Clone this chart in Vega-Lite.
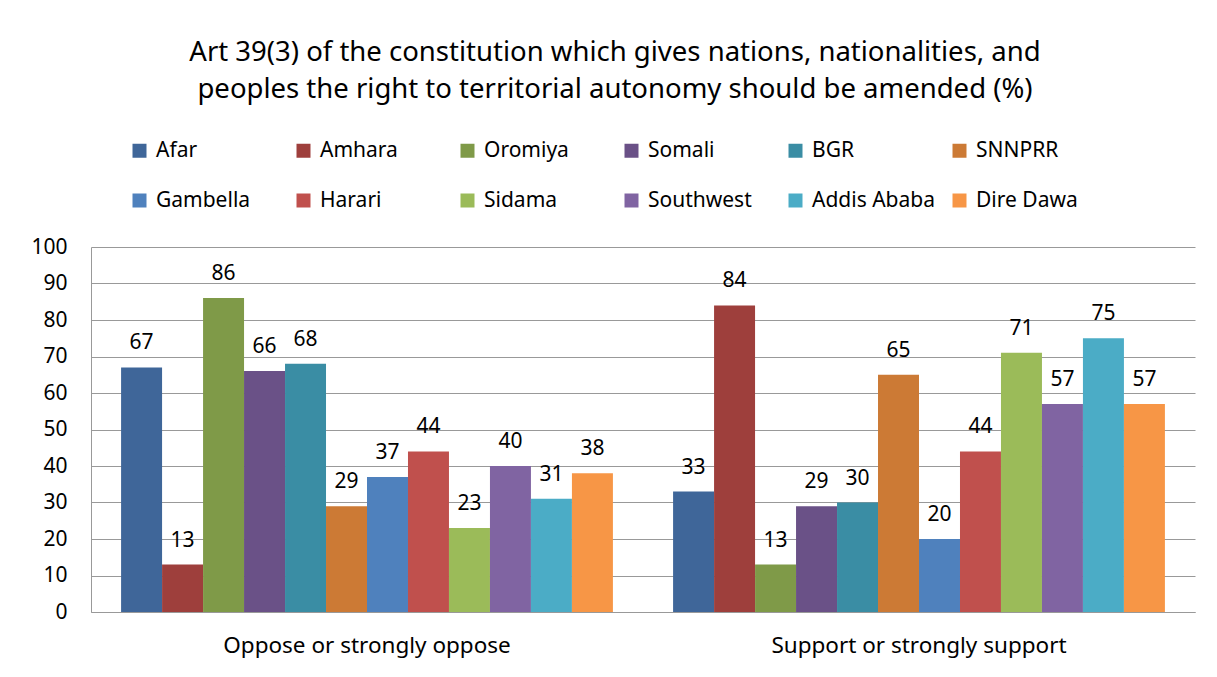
{
  "$schema": "https://vega.github.io/schema/vega-lite/v6.json",
  "autosize": {"type": "none"},
  "width": 1104,
  "height": 365,
  "padding": {"left": 91, "top": 247, "right": 22, "bottom": 65},
  "background": "white",
  "title": {
    "text": ["Art 39(3) of the constitution which gives nations, nationalities, and", "peoples the right to territorial autonomy should be amended (%)"],
    "anchor": "middle",
    "frame": "group",
    "font": "Noto Sans",
    "fontSize": 27.5,
    "fontWeight": "normal",
    "color": "#000",
    "lineHeight": 37,
    "dx": -28,
    "offset": 37
  },
  "data": {
    "values": [
      {"group": "Oppose or strongly oppose", "region": "Afar", "value": 67},
      {"group": "Oppose or strongly oppose", "region": "Amhara", "value": 13},
      {"group": "Oppose or strongly oppose", "region": "Oromiya", "value": 86},
      {"group": "Oppose or strongly oppose", "region": "Somali", "value": 66},
      {"group": "Oppose or strongly oppose", "region": "BGR", "value": 68},
      {"group": "Oppose or strongly oppose", "region": "SNNPRR", "value": 29},
      {"group": "Oppose or strongly oppose", "region": "Gambella", "value": 37},
      {"group": "Oppose or strongly oppose", "region": "Harari", "value": 44},
      {"group": "Oppose or strongly oppose", "region": "Sidama", "value": 23},
      {"group": "Oppose or strongly oppose", "region": "Southwest", "value": 40},
      {"group": "Oppose or strongly oppose", "region": "Addis Ababa", "value": 31},
      {"group": "Oppose or strongly oppose", "region": "Dire Dawa", "value": 38},
      {"group": "Support or strongly support", "region": "Afar", "value": 33},
      {"group": "Support or strongly support", "region": "Amhara", "value": 84},
      {"group": "Support or strongly support", "region": "Oromiya", "value": 13},
      {"group": "Support or strongly support", "region": "Somali", "value": 29},
      {"group": "Support or strongly support", "region": "BGR", "value": 30},
      {"group": "Support or strongly support", "region": "SNNPRR", "value": 65},
      {"group": "Support or strongly support", "region": "Gambella", "value": 20},
      {"group": "Support or strongly support", "region": "Harari", "value": 44},
      {"group": "Support or strongly support", "region": "Sidama", "value": 71},
      {"group": "Support or strongly support", "region": "Southwest", "value": 57},
      {"group": "Support or strongly support", "region": "Addis Ababa", "value": 75},
      {"group": "Support or strongly support", "region": "Dire Dawa", "value": 57}
    ]
  },
  "encoding": {
    "x": {
      "field": "group",
      "type": "nominal",
      "scale": {"paddingInner": 0.109, "paddingOuter": 0.0545},
      "axis": {
        "title": null,
        "labelAngle": 0,
        "labelFont": "Noto Sans",
        "labelFontSize": 22.5,
        "labelColor": "#000",
        "labelPadding": 22,
        "labelLimit": 500,
        "ticks": false,
        "domainColor": "#999",
        "grid": false
      }
    },
    "xOffset": {
      "field": "region",
      "type": "nominal",
      "sort": ["Afar", "Amhara", "Oromiya", "Somali", "BGR", "SNNPRR", "Gambella", "Harari", "Sidama", "Southwest", "Addis Ababa", "Dire Dawa"],
      "scale": {"paddingInner": 0, "paddingOuter": 0}
    },
    "y": {
      "field": "value",
      "type": "quantitative",
      "scale": {"domain": [0, 100]},
      "axis": {
        "title": null,
        "values": [0, 10, 20, 30, 40, 50, 60, 70, 80, 90, 100],
        "labelFont": "Noto Sans",
        "labelFontSize": 21,
        "labelColor": "#000",
        "labelPadding": 24,
        "ticks": false,
        "domainColor": "#999",
        "gridColor": "#999",
        "grid": true
      }
    }
  },
  "layer": [
    {
      "mark": {"type": "bar"},
      "encoding": {
        "color": {
          "field": "region",
          "type": "nominal",
          "sort": ["Afar", "Amhara", "Oromiya", "Somali", "BGR", "SNNPRR", "Gambella", "Harari", "Sidama", "Southwest", "Addis Ababa", "Dire Dawa"],
          "scale": {
            "domain": ["Afar", "Amhara", "Oromiya", "Somali", "BGR", "SNNPRR", "Gambella", "Harari", "Sidama", "Southwest", "Addis Ababa", "Dire Dawa"],
            "range": ["#3F6699", "#9E3F3C", "#7F9A48", "#6A5187", "#3A8DA4", "#CC7A35", "#4F81BD", "#C0504D", "#9BBB59", "#8064A2", "#4BACC6", "#F79646"]
          },
          "legend": {
            "title": null,
            "orient": "none",
            "legendX": 38,
            "legendY": -107,
            "direction": "horizontal",
            "columns": 6,
            "gridAlign": "all",
            "columnPadding": 14,
            "rowPadding": 28,
            "symbolType": "square",
            "symbolSize": 196,
            "symbolStrokeWidth": 0,
            "labelFont": "Noto Sans",
            "labelFontSize": 21,
            "labelColor": "#000",
            "labelOffset": 6,
            "labelLimit": 300
          }
        }
      }
    },
    {
      "mark": {"type": "text", "baseline": "alphabetic", "dy": -18, "font": "Noto Sans", "fontSize": 21, "color": "#000"},
      "encoding": {
        "text": {"field": "value", "type": "quantitative"}
      }
    }
  ],
  "config": {
    "view": {"stroke": null}
  }
}
